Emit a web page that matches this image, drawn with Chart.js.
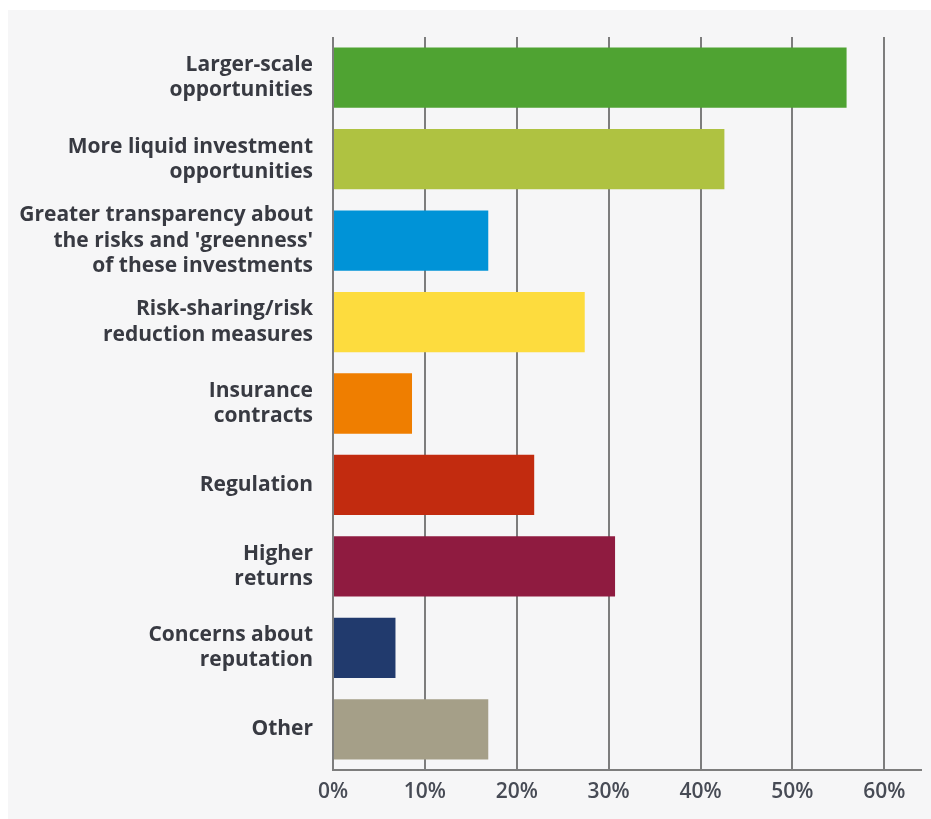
<!DOCTYPE html>
<html>
<head>
<meta charset="utf-8">
<script src="https://cdn.jsdelivr.net/npm/chart.js@4/dist/chart.umd.min.js"></script>
<style>
    html, body { margin: 0; padding: 0; background: #ffffff; }
    #panel {
        position: absolute;
        left: 8px; top: 10px; right: 0; bottom: 0;
        background: #f6f6f7;
    }
    #wrap { position: absolute; left: 0; top: 0; width: 931px; height: 819px; }
</style>
</head>
<body>
<div id="panel"></div>
<div id="wrap"><canvas id="chart" width="931" height="819"></canvas></div>
<script>
// Survey answers, one bar per option (share of respondents, %)
const categories = [
    ['Larger-scale', 'opportunities'],
    ['More liquid investment', 'opportunities'],
    ['Greater transparency about', "the risks and 'greenness'", 'of these investments'],
    ['Risk-sharing/risk', 'reduction measures'],
    ['Insurance', 'contracts'],
    'Regulation',
    ['Higher', 'returns'],
    ['Concerns about', 'reputation'],
    'Other'
];
const shares = [55.9, 42.6, 16.9, 27.4, 8.6, 21.9, 30.7, 6.8, 16.9];
const barColors = [
    '#4fa332', '#afc241', '#0093d7', '#fddc3e', '#ef7e00',
    '#c22b0f', '#8f1b40', '#213a6d', '#a59f88'
];
const xTicks = [0, 10, 20, 30, 40, 50, 60];

const gridColor = '#7d7d7d';
const textColor = '#383a42';

const ctx = document.getElementById('chart').getContext('2d');
new Chart(ctx, {
    type: 'bar',
    data: {
        labels: categories,
        datasets: [{
            data: shares,
            backgroundColor: barColors,
            borderWidth: 0,
            barPercentage: 0.74,
            categoryPercentage: 1
        }]
    },
    options: {
        indexAxis: 'y',
        responsive: false,
        animation: false,
        layout: { padding: { top: 37, right: 10, bottom: 0, left: 0 } },
        plugins: {
            legend: { display: false },
            tooltip: { enabled: false }
        },
        scales: {
            x: {
                min: 0,
                max: 64,
                afterBuildTicks: (scale) => {
                    // keep only the 10% steps, the axis line runs a bit past 60%
                    scale.ticks = xTicks.map(v => ({ value: v }));
                },
                afterFit: (scale) => { scale.height = 49; },
                grid: {
                    color: gridColor,
                    lineWidth: 2,
                    drawTicks: false
                },
                border: { display: true, color: gridColor, width: 2 },
                ticks: {
                    padding: 9,
                    color: '#474b55',
                    font: { family: 'Open Sans', size: 21, weight: '600' },
                    callback: (value) => value + '%'
                }
            },
            y: {
                afterFit: (scale) => { scale.width = 333; },
                grid: { display: false, drawTicks: false },
                border: { display: false },
                ticks: {
                    padding: 20,
                    color: textColor,
                    font: { family: 'Open Sans', size: 21, weight: 'bold', lineHeight: 1.2 }
                }
            }
        }
    }
});
</script>
</body>
</html>
